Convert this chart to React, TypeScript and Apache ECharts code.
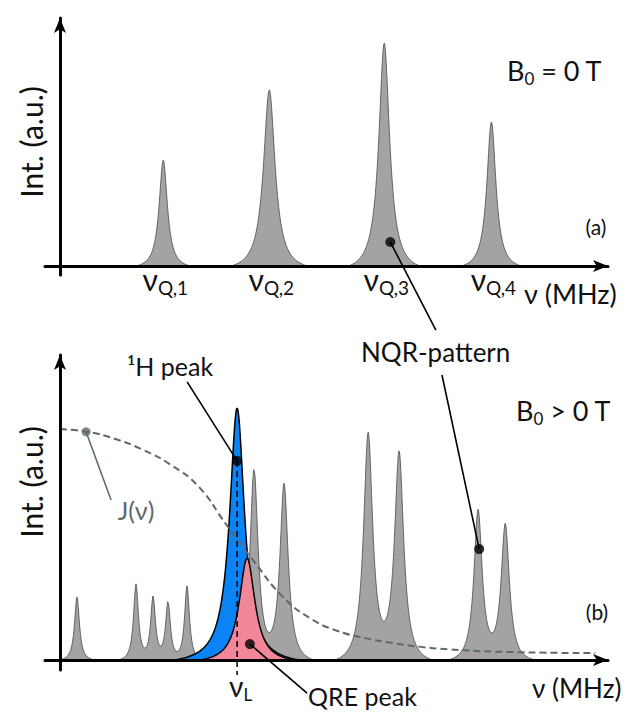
import React, { useEffect, useRef } from "react";
import * as echarts from "echarts";

// ---------- Panel (a): zero-field NQR lines (B0 = 0 T) ----------
const nqrLabels = ["Q,1", "Q,2", "Q,3", "Q,4"];
const nqrCenters = [18.6, 37.7, 58.4, 77.7];
const nqrHeights = [41.8, 69.4, 87.9, 56.8];
const nqrWidths = [0.9, 1.26, 1.17, 0.99];

// ---------- Panel (b): split NQR pattern (B0 > 0 T) ----------
const splitCenters = [3.06, 13.69, 16.76, 19.46, 22.88, 34.95, 40.36, 55.5, 61.08, 75.3, 80.2];
const splitHeights = [20.2, 24.3, 20.2, 18.6, 23.7, 61.1, 56.6, 72.6, 66.6, 48.0, 43.5];
const splitWidths = [0.54, 0.54, 0.54, 0.54, 0.54, 0.9, 0.9, 1.0, 1.0, 0.9, 0.9];

// 1H (Larmor) peak and QRE peak
const protonCenter = [31.9];
const protonHeight = [80.6];
const protonWidth = [1.62];
const qreCenter = [33.7];
const qreHeight = [32.6];
const qreWidth = [1.71];

// spectral density J(nu)
const jNuX = [0, 5, 10, 15, 20, 25, 30, 35, 40, 45, 50, 55, 60, 65, 70, 80, 96.4];
const jNuY = [73.9, 73.0, 70.7, 67.2, 62.4, 55.4, 43.2, 31.4, 20.5, 13.4, 9.3, 7.0, 5.4, 4.2, 3.4, 2.6, 2.2];

// annotation anchors (data coordinates)
const nqrTopDot = [59.5, 9.5];
const nqrTopLeaderEnd = [67.7, -25.2];
const nqrBottomDot = [75.5, 35.5];
const nqrBottomLeaderStart = [68.8, 91.2];
const protonDot = [31.9, 63.7];
const protonLeaderStart = [22.9, 89.0];
const jDot = [4.7, 73.0];
const jLeaderEnd = [9.2, 51.2];
const qreDot = [34.2, 5.1];
const qreLeaderEnd = [44.5, -10.6];
const larmorFootY = -4.8;

const X_MIN = -2.7;
const X_MAX = 98.7;
const FONT = 'Lato, "Open Sans", "DejaVu Sans", sans-serif';
const INK = "#111111";
const JCOLOR = "#5e6a69";

function sampleGrid(centers: number[]): number[] {
  const xs: number[] = [];
  const n = Math.round((X_MAX - X_MIN) / 0.1);
  for (let i = 0; i <= n; i++) xs.push(+(X_MIN + i * 0.1).toFixed(2));
  centers.forEach((c) => xs.push(c));
  return xs.sort((a, b) => a - b);
}

// sum of Lorentzian lines (truncated at `cut` half-widths so they meet the baseline)
function lineShape(centers: number[], heights: number[], widths: number[], cut: number): number[][] {
  const floor = 1 / (1 + cut * cut);
  return sampleGrid(centers).map((x) => {
    let v = 0;
    centers.forEach((c, i) => {
      const d = (x - c) / widths[i];
      if (Math.abs(d) < cut) v += (heights[i] * (1 / (1 + d * d) - floor)) / (1 - floor);
    });
    return [x, v];
  });
}

function axisPair(gridIndex: number, yMin: number, yMax: number) {
  const axisLine = {
    show: true,
    onZero: true,
    symbol: ["none", "arrow"],
    symbolSize: [9, 15],
    lineStyle: { color: "#000", width: 3 },
  };
  const common = {
    type: "value",
    gridIndex,
    axisLine,
    axisTick: { show: false },
    axisLabel: { show: false },
    splitLine: { show: false },
    z: 10,
  };
  return {
    x: { ...common, min: X_MIN, max: X_MAX },
    y: { ...common, min: yMin, max: yMax },
  };
}

function leader(grid: number, a: number[], b: number[], color = "#000", width = 1.6, dashed = false) {
  return {
    type: "line",
    xAxisIndex: grid,
    yAxisIndex: grid,
    data: [a, b],
    showSymbol: false,
    symbol: "none",
    clip: false,
    silent: true,
    lineStyle: { color, width, type: dashed ? [6, 4] : "solid" },
    z: 6,
  };
}

export default function App() {
  const ref = useRef<HTMLDivElement>(null);

  useEffect(() => {
    document.body.style.margin = "0";
    const chart = echarts.init(ref.current!, null, { renderer: "svg" });
    const a = axisPair(0, -3.5, 97.8);
    const b = axisPair(1, -3.2, 97.6);

    const option: any = {
      animation: false,
      backgroundColor: "#ffffff",
      grid: [
        { left: 45, right: 21, top: 18, bottom: 438 },
        { left: 45, right: 21, top: 355, bottom: 43 },
      ],
      xAxis: [a.x, b.x],
      yAxis: [a.y, b.y],
      series: [
        {
          name: "NQR (a)",
          type: "line",
          xAxisIndex: 0,
          yAxisIndex: 0,
          data: lineShape(nqrCenters, nqrHeights, nqrWidths, 5.5),
          showSymbol: false,
          symbol: "none",
          lineStyle: { color: "#4a4a4a", width: 0.8 },
          areaStyle: { color: "#a3a3a3", opacity: 1 },
          z: 2,
        },
        {
          name: "NQR (b)",
          type: "line",
          xAxisIndex: 1,
          yAxisIndex: 1,
          data: lineShape(splitCenters, splitHeights, splitWidths, 6),
          showSymbol: false,
          symbol: "none",
          lineStyle: { color: "#4a4a4a", width: 0.8 },
          areaStyle: { color: "#a3a3a3", opacity: 1 },
          z: 2,
        },
        {
          name: "1H",
          type: "line",
          xAxisIndex: 1,
          yAxisIndex: 1,
          data: lineShape(protonCenter, protonHeight, protonWidth, 7),
          showSymbol: false,
          symbol: "none",
          lineStyle: { color: "#000", width: 1.5 },
          areaStyle: { color: "#0a84f4", opacity: 1 },
          z: 3,
        },
        {
          name: "QRE",
          type: "line",
          xAxisIndex: 1,
          yAxisIndex: 1,
          data: lineShape(qreCenter, qreHeight, qreWidth, 5),
          showSymbol: false,
          symbol: "none",
          lineStyle: { color: "#000", width: 1.5 },
          areaStyle: { color: "#f2879a", opacity: 1 },
          z: 4,
        },
        {
          name: "J(nu)",
          type: "line",
          xAxisIndex: 1,
          yAxisIndex: 1,
          data: jNuX.map((x, i) => [x, jNuY[i]]),
          smooth: 0.5,
          showSymbol: false,
          symbol: "none",
          lineStyle: { color: JCOLOR, width: 2, type: [7, 4] },
          z: 5,
        },
        leader(0, nqrTopDot, nqrTopLeaderEnd),
        leader(1, nqrBottomLeaderStart, nqrBottomDot),
        leader(1, protonLeaderStart, protonDot),
        leader(1, jDot, jLeaderEnd, JCOLOR, 1.5),
        leader(1, qreDot, qreLeaderEnd),
        leader(1, protonDot, [protonDot[0], larmorFootY], "#000", 1.5, true),
        {
          type: "scatter",
          xAxisIndex: 0,
          yAxisIndex: 0,
          data: [nqrTopDot],
          symbolSize: 10,
          itemStyle: { color: "#000" },
          z: 7,
        },
        {
          type: "scatter",
          xAxisIndex: 1,
          yAxisIndex: 1,
          data: [nqrBottomDot, protonDot, qreDot],
          symbolSize: 10,
          itemStyle: { color: "#000" },
          z: 7,
        },
        {
          type: "scatter",
          xAxisIndex: 1,
          yAxisIndex: 1,
          data: [jDot],
          symbolSize: 9,
          itemStyle: { color: JCOLOR },
          z: 7,
        },
      ],
    };
    chart.setOption(option);

    const toPx = (g: number, x: number, y: number) =>
      chart.convertToPixel({ gridIndex: g } as any, [x, y]) as number[];

    const plain = (x: number, y: number, text: string, size: number, align = "left", fill = INK, rotation = 0) => ({
      type: "text",
      x,
      y,
      rotation,
      z: 20,
      style: { text, fontSize: size, fontFamily: FONT, fill, align, verticalAlign: "middle" },
    });

    const sub = (x: number, y: number, main: string, low: string, tail: string, size: number, subSize: number, align = "left") => ({
      type: "text",
      x,
      y,
      z: 20,
      style: {
        text: `{m|${main}}{s|${low}}` + (tail ? `{m|${tail}}` : ""),
        fontFamily: FONT,
        fill: INK,
        align,
        verticalAlign: "middle",
        rich: {
          m: { fontSize: size, fontFamily: FONT, fill: INK, lineHeight: size + 6 },
          s: { fontSize: subSize, fontFamily: FONT, fill: INK, verticalAlign: "bottom", lineHeight: subSize },
        },
      },
    });

    const graphics: any[] = [];
    // y-axis titles
    graphics.push(plain(31, 142, "Int. (a.u.)", 30, "center", INK, Math.PI / 2));
    graphics.push(plain(31, 482, "Int. (a.u.)", 30, "center", INK, Math.PI / 2));
    // x-axis titles
    graphics.push(plain(524, 293, "ν (MHz)", 27));
    graphics.push(plain(532, 688, "ν (MHz)", 26));
    // field labels
    graphics.push(sub(507, 70, "B", "0", " = 0 T", 27, 17));
    graphics.push(sub(516, 410, "B", "0", " > 0 T", 27, 17));
    graphics.push(plain(596, 226, "(a)", 21, "center"));
    graphics.push(plain(597, 611, "(b)", 21, "center"));
    // NQR line labels under panel (a)
    nqrCenters.forEach((c, i) => {
      const p = toPx(0, c, 0);
      graphics.push(sub(p[0] + 2, 279, "ν", nqrLabels[i], "", 30, 19, "center"));
    });
    // Larmor frequency label
    const pl = toPx(1, protonCenter[0], 0);
    graphics.push(sub(pl[0] - 8, 686, "ν", "L", "", 28, 17));
    // annotations
    graphics.push(plain(361, 352, "NQR-pattern", 26));
    graphics.push(plain(127, 366, "¹H peak", 25));
    graphics.push(plain(308, 696, "QRE peak", 25));
    graphics.push(plain(136, 510, "J(ν)", 25, "center", JCOLOR));

    chart.setOption({ graphic: graphics });

    return () => chart.dispose();
  }, []);

  return <div ref={ref} style={{ width: 629, height: 713 }} />;
}
